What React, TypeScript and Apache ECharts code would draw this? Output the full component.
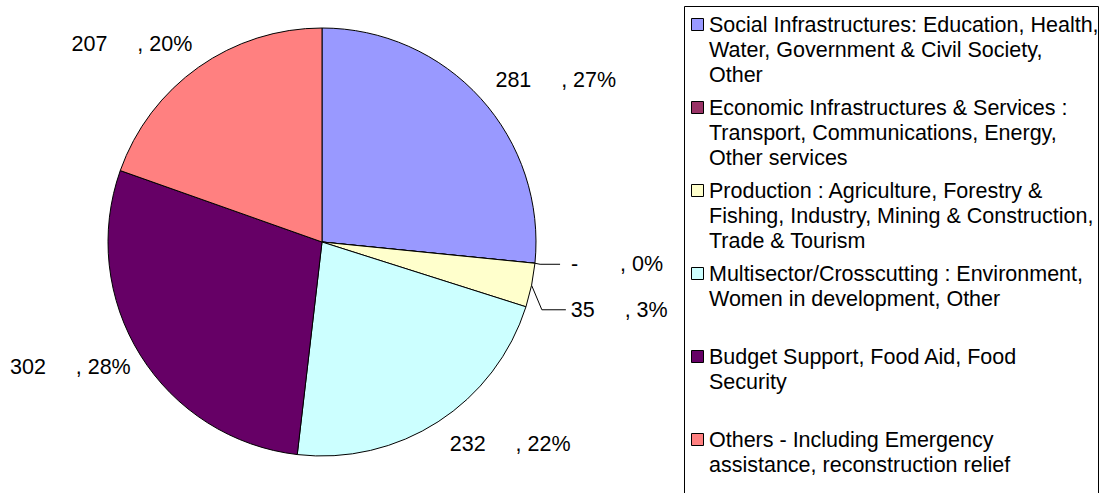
import React, { useEffect, useRef } from "react";
import * as echarts from "echarts";

const categories = [
  "Social Infrastructures: Education, Health,\nWater, Government & Civil Society,\nOther",
  "Economic Infrastructures & Services :\nTransport, Communications, Energy,\nOther services",
  "Production : Agriculture, Forestry &\nFishing, Industry, Mining & Construction,\nTrade & Tourism",
  "Multisector/Crosscutting : Environment,\nWomen in development, Other",
  "Budget Support, Food Aid, Food\nSecurity",
  "Others - Including Emergency\nassistance, reconstruction relief",
];
const values = [281, 0, 35, 232, 302, 207];
const colors = ["#9999FF", "#993366", "#FFFFCC", "#CCFFFF", "#660066", "#FF8080"];
// per-slice label line lengths (layout only)
const lineLen = [28, 10, 20, 27, 22, 28];
const lineLen2 = [-11, 20, 24, -8, -14, -15];
const showLine = [false, true, true, false, false, false];
const labelLineHeight = [25, 25, 62, 25, 25, 25];

const FONT = "'Liberation Sans', Arial, sans-serif";
const FS = 21.5;

export default function App() {
  const ref = useRef<HTMLDivElement>(null);
  useEffect(() => {
    document.body.style.margin = "0";
    const chart = echarts.init(ref.current!, null, { renderer: "svg" });
    const legendTop = 24.5;
    const legendStep = 83;
    const graphics: any[] = [
      {
        type: "rect",
        shape: { x: 684.5, y: 6.5, width: 414, height: 500 },
        style: { fill: "#fff", stroke: "#000", lineWidth: 1 },
        z: 0,
      },
    ];
    categories.forEach((name, i) => {
      const cy = legendTop + i * legendStep;
      graphics.push({
        type: "rect",
        shape: { x: 691.5, y: Math.round(cy - 6.5) + 0.5, width: 12, height: 12 },
        style: { fill: colors[i], stroke: "#000", lineWidth: 1 },
        z: 1,
      });
      graphics.push({
        type: "text",
        x: 709,
        y: cy - 12.5,
        style: {
          text: name,
          fill: "#000",
          font: `${FS}px ${FONT}`,
          lineHeight: 25,
          verticalAlign: "top",
          align: "left",
        },
        z: 1,
      });
    });

    chart.setOption({
      animation: false,
      backgroundColor: "#fff",
      graphic: graphics,
      series: [
        {
          type: "pie",
          center: [322, 242],
          radius: 214,
          startAngle: 90,
          clockwise: true,
          percentPrecision: 0,
          avoidLabelOverlap: true,
          itemStyle: { borderColor: "#000", borderWidth: 1 },
          label: {
            show: true,
            position: "outside",
            color: "#000",
            fontSize: FS,
            fontFamily: FONT,
            width: 130,
            overflow: "none",
            formatter: (p: any) =>
              p.value === 0
                ? ` -       , ${p.percent}%`
                : `${p.value}     , ${p.percent}%`,
          },
          emphasis: { disabled: true },
          data: values.map((v, i) => ({
            name: categories[i],
            value: v,
            itemStyle: { color: colors[i] },
            label: { lineHeight: labelLineHeight[i] },
            labelLine: {
              show: showLine[i],
              length: lineLen[i],
              length2: lineLen2[i],
              lineStyle: { color: "#000", width: 1 },
            },
          })),
        },
      ],
    });
    return () => chart.dispose();
  }, []);
  return <div ref={ref} style={{ width: 1106, height: 493 }} />;
}
